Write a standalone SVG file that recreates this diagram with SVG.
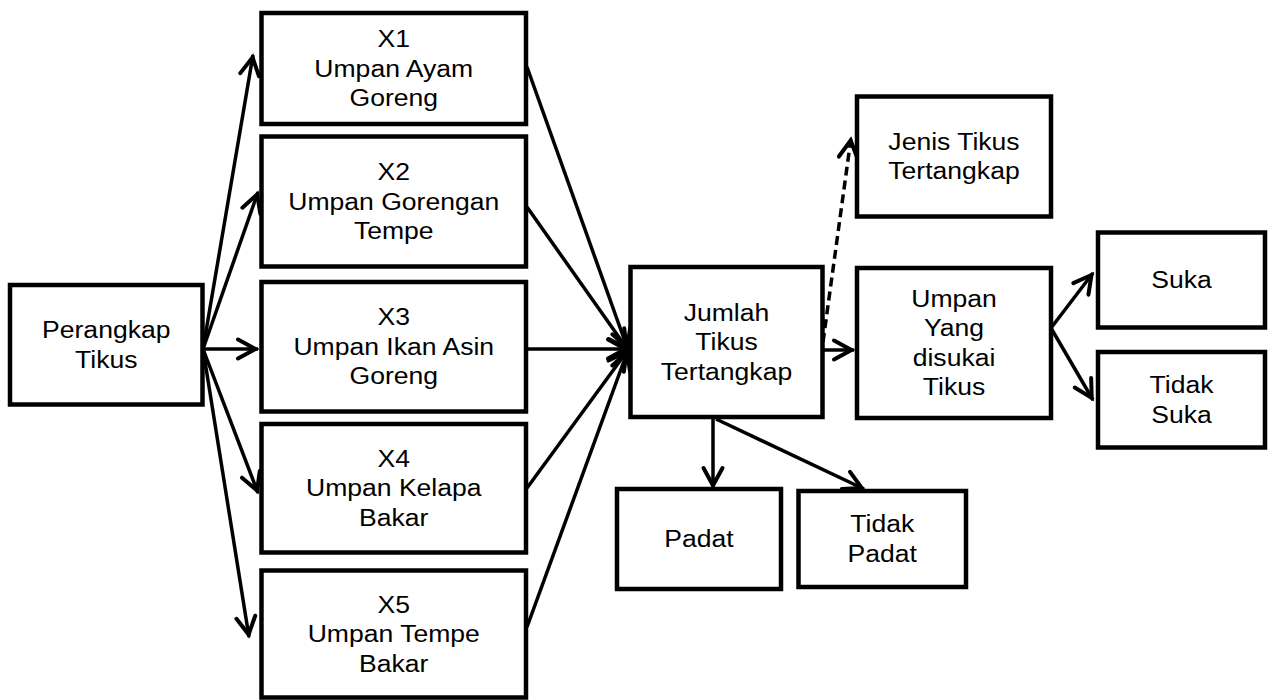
<svg xmlns="http://www.w3.org/2000/svg" width="1272" height="700" viewBox="0 0 1272 700">
<style>
.box{fill:#fff;stroke:#000;stroke-width:4.5}
.t{font-family:"Liberation Sans",Arial,sans-serif;font-size:23.5px;fill:#000;text-anchor:middle}
.c{fill:none;stroke:#000;stroke-width:3.5;marker-end:url(#arr)}
.d{stroke-dasharray:9 5}
</style>
<defs>
<marker id="arr" markerUnits="userSpaceOnUse" viewBox="-24 -14 28 28" markerWidth="28" markerHeight="28" refX="0" refY="0" orient="auto">
<path d="M-20,-9.5 L-2.5,0 L-20,9.5" fill="none" stroke="#000" stroke-width="4" stroke-linejoin="miter" stroke-linecap="round"/>
</marker>
</defs>
<rect width="1272" height="700" fill="#fff"/>
<g id="connectors">
<path class="c" d="M203,349 L253,55"/>
<path class="c" d="M203,349 L258,192"/>
<path class="c" d="M203,349 L258,349"/>
<path class="c" d="M203,349 L258,493"/>
<path class="c" d="M203,349 L249,637"/>
<path class="c" d="M527,67 L628,350"/>
<path class="c" d="M527,207 L628,350"/>
<path class="c" d="M527,349 L628,349"/>
<path class="c" d="M527,488 L628,350"/>
<path class="c" d="M527,627 L628,350"/>
<path class="c d" d="M823,342 L851,138"/>
<path class="c" d="M823,350 L854,350"/>
<path class="c" d="M1051,328 L1093,273"/>
<path class="c" d="M1051,328 L1093,400"/>
<path class="c" d="M713,417 L713,488"/>
<path class="c" d="M716,419 L864,489"/>
</g>
<g id="perangkap">
<rect class="box" x="10" y="285" width="192.5" height="119.5"/>
<text class="t" transform="translate(106.25 0) scale(1.13 1)"><tspan x="0" y="338.3">Perangkap</tspan><tspan x="0" y="367.8">Tikus</tspan></text>
</g>
<g id="x1">
<rect class="box" x="261.5" y="13" width="264.5" height="111"/>
<text class="t" transform="translate(393.75 0) scale(1.13 1)"><tspan x="0" y="47.3">X1</tspan><tspan x="0" y="76.8">Umpan Ayam</tspan><tspan x="0" y="106.3">Goreng</tspan></text>
</g>
<g id="x2">
<rect class="box" x="261.5" y="136.5" width="264.5" height="130"/>
<text class="t" transform="translate(393.75 0) scale(1.13 1)"><tspan x="0" y="180.3">X2</tspan><tspan x="0" y="209.8">Umpan Gorengan</tspan><tspan x="0" y="239.3">Tempe</tspan></text>
</g>
<g id="x3">
<rect class="box" x="261.5" y="282" width="264.5" height="129.5"/>
<text class="t" transform="translate(393.75 0) scale(1.13 1)"><tspan x="0" y="325.5">X3</tspan><tspan x="0" y="355">Umpan Ikan Asin</tspan><tspan x="0" y="384.5">Goreng</tspan></text>
</g>
<g id="x4">
<rect class="box" x="261.5" y="424" width="264.5" height="128.5"/>
<text class="t" transform="translate(393.75 0) scale(1.13 1)"><tspan x="0" y="467">X4</tspan><tspan x="0" y="496.5">Umpan Kelapa</tspan><tspan x="0" y="526">Bakar</tspan></text>
</g>
<g id="x5">
<rect class="box" x="261.5" y="570.5" width="264.5" height="127"/>
<text class="t" transform="translate(393.75 0) scale(1.13 1)"><tspan x="0" y="612.8">X5</tspan><tspan x="0" y="642.3">Umpan Tempe</tspan><tspan x="0" y="671.8">Bakar</tspan></text>
</g>
<g id="jumlah">
<rect class="box" x="630.5" y="267" width="192" height="150"/>
<text class="t" transform="translate(726.5 0) scale(1.13 1)"><tspan x="0" y="320.8">Jumlah</tspan><tspan x="0" y="350.3">Tikus</tspan><tspan x="0" y="379.8">Tertangkap</tspan></text>
</g>
<g id="jenis">
<rect class="box" x="857" y="96.5" width="194" height="120"/>
<text class="t" transform="translate(954 0) scale(1.13 1)"><tspan x="0" y="150">Jenis Tikus</tspan><tspan x="0" y="179.5">Tertangkap</tspan></text>
</g>
<g id="umpan-disukai">
<rect class="box" x="857" y="268" width="194" height="150"/>
<text class="t" transform="translate(954 0) scale(1.13 1)"><tspan x="0" y="307">Umpan</tspan><tspan x="0" y="336.5">Yang</tspan><tspan x="0" y="366">disukai</tspan><tspan x="0" y="395.5">Tikus</tspan></text>
</g>
<g id="suka">
<rect class="box" x="1098" y="232.5" width="167" height="95"/>
<text class="t" transform="translate(1181.5 0) scale(1.13 1)"><tspan x="0" y="288.3">Suka</tspan></text>
</g>
<g id="tidak-suka">
<rect class="box" x="1098" y="352" width="167" height="95.5"/>
<text class="t" transform="translate(1181.5 0) scale(1.13 1)"><tspan x="0" y="393.3">Tidak</tspan><tspan x="0" y="422.8">Suka</tspan></text>
</g>
<g id="padat">
<rect class="box" x="617" y="489" width="164" height="100"/>
<text class="t" transform="translate(699 0) scale(1.13 1)"><tspan x="0" y="547.3">Padat</tspan></text>
</g>
<g id="tidak-padat">
<rect class="box" x="798.5" y="491" width="167.5" height="96"/>
<text class="t" transform="translate(882.25 0) scale(1.13 1)"><tspan x="0" y="532.5">Tidak</tspan><tspan x="0" y="562">Padat</tspan></text>
</g>
</svg>
